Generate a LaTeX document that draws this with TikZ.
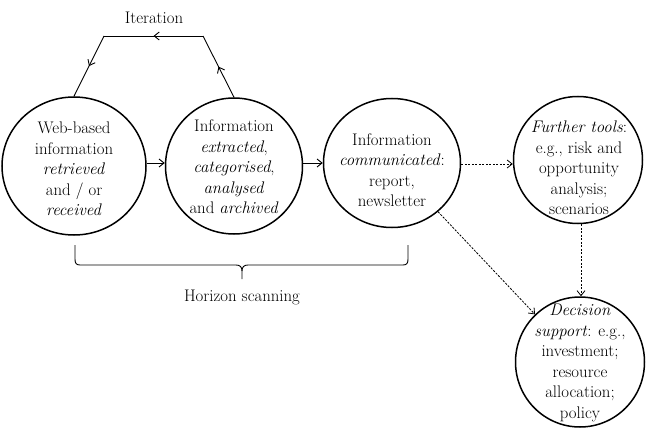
\documentclass[tikz,border=0pt]{standalone}
\usetikzlibrary{shapes.geometric,arrows.meta,decorations.markings}
\tikzset{
  ell/.style={draw, ellipse, line width=1.5pt, inner sep=0pt},
  txt/.style={align=center, font=\fontsize{16.8}{20.5}\selectfont, inner sep=0pt},
  lbl/.style={font=\fontsize{16.8}{20.5}\selectfont, inner sep=0pt},
  arr/.style={line width=0.9pt, -{Straight Barb[length=5pt,width=8pt]}},
  darr/.style={line width=0.8pt, dash pattern=on 2.2pt off 1.3pt, -{Straight Barb[length=5pt,width=8pt]}},
  midarrow/.style={line width=0.9pt, decoration={markings, mark=at position 0.5 with {\arrow{Straight Barb[length=5pt,width=8pt]}}}, postaction={decorate}},
}
\begin{document}
\begin{tikzpicture}[x=1pt,y=-1pt]
\useasboundingbox (0,0) rectangle (646,428);
% circles
\node[ell, minimum width=144pt, minimum height=138pt] (c1) at (74,166) {};
\node[ell, minimum width=137pt, minimum height=136pt] (c2) at (234,166) {};
\node[ell, minimum width=137pt, minimum height=129pt] (c3) at (392,163) {};
\node[ell, minimum width=129pt, minimum height=127pt] (c4) at (578,160) {};
\node[ell, minimum width=129pt, minimum height=130pt] (c5) at (580,362) {};
% texts
\node[txt] (t1) at (74,169) {Web-based\\information\\\textit{retrieved}\\and / or\\\textit{received}};
\node[txt] (t2) at (234,167) {Information\\\textit{extracted},\\\textit{categorised},\\\textit{analysed}\\and \textit{archived}};
\node[txt] (t3) at (392,170) {Information\\\textit{communicated}:\\report,\\newsletter};
\node[txt] (t4) at (579,168) {\textit{Further tools}:\\e.g., risk and\\opportunity\\analysis;\\scenarios};
\node[txt] (t5) at (580,363) {\textit{Decision}\\\textit{support}: e.g.,\\investment;\\resource\\allocation;\\policy};
% labels
\node[lbl] (iter) at (154,18) {Iteration};
\node[lbl] (hs) at (242,297) {Horizon scanning};
% solid arrows
\draw[arr] (c1.east |- 0,163) -- (c2.west |- 0,163);
\draw[arr] (c2.east |- 0,163) -- (c3.west |- 0,163);
% dashed arrows
\draw[darr] (c3.east |- 0,164) -- (c4.west |- 0,164);
\draw[darr] (c3) -- (c5);
\draw[darr] (c4.south -| 581,0) -- (c5.north -| 581,0);
% iteration loop
\coordinate (i1) at (104,36);
\coordinate (i2) at (203,36);
\draw[midarrow] (c2.north) -- (i2);
\draw[midarrow] (i2) -- (i1);
\draw[midarrow] (i1) -- (c1.north);
% brace
\draw[line width=0.9pt] (75,245) -- (75,259) .. controls (75,263) and (76,265) .. (80,265) -- (236,265)
  .. controls (240,265) and (242,267) .. (242,271) -- (242,279);
\draw[line width=0.9pt] (242,271) .. controls (242,267) and (244,265) .. (248,265) -- (403,265)
  .. controls (407,265) and (408,263) .. (408,259) -- (408,245);
\end{tikzpicture}
\end{document}
